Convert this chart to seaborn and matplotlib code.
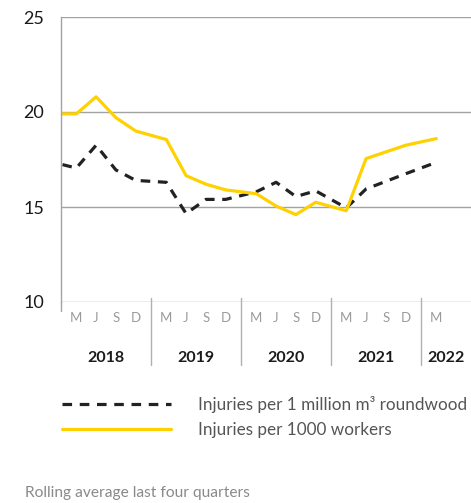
import numpy as np
import pandas as pd
import seaborn as sns
import matplotlib.pyplot as plt
from matplotlib.lines import Line2D
from matplotlib import transforms

# ---------------- data ----------------
years = [2018, 2019, 2020, 2021, 2022]
quarter_labels = ["M", "J", "S", "D"]
period_years = [2017, 2018, 2018, 2018, 2018, 2019, 2019, 2019, 2019,
                2020, 2020, 2020, 2020, 2021, 2021, 2021, 2021, 2022]
period_quarters = ["D", "M", "J", "S", "D", "M", "J", "S", "D",
                   "M", "J", "S", "D", "M", "J", "S", "D", "M"]
roundwood = [17.45, 17.05, 18.25, 16.95, 16.4, 16.3, 14.65, 15.4, 15.4,
             15.8, 16.3, 15.55, 15.85, 14.95, 15.95, 16.35, 16.75, 17.35]
workers = [19.9, 19.9, 20.8, 19.7, 19.0, 18.55, 16.65, 16.2, 15.9,
           15.7, 15.05, 14.6, 15.25, 14.8, 17.55, 17.9, 18.25, 18.6]
series_names = ["Injuries per 1 million m³ roundwood", "Injuries per 1000 workers"]
y_ticks = [10, 15, 20, 25]
footnote = "Rolling average last four quarters"

# ---------------- style ----------------
sns.set_style("white")
plt.rcParams["font.family"] = ["Lato", "DejaVu Sans"]

YELLOW = "#FFD100"
BLACK = "#222222"
GRID = "#a3a3a3"

q_offset = {"M": 0.17, "J": 0.39, "S": 0.61, "D": 0.83}


def xpos(year, q):
    return (year - years[0]) + q_offset[q]


xs = [xpos(y, q) for y, q in zip(period_years, period_quarters)]
df = pd.DataFrame({
    "x": xs * 2,
    "value": roundwood + workers,
    "series": [series_names[0]] * len(xs) + [series_names[1]] * len(xs),
})

W, H = 471, 503
fig = plt.figure(figsize=(W / 100, H / 100), dpi=100)
left_px, top_px, right_px, bottom_px = 61, 17, 471, 302
ax = fig.add_axes([left_px / W, (H - bottom_px) / H,
                   (right_px - left_px) / W, (bottom_px - top_px) / H])
year_px = 90.0
xmax = (right_px - left_px) / year_px

sns.lineplot(data=df, x="x", y="value", hue="series", style="series",
             palette={series_names[0]: BLACK, series_names[1]: YELLOW},
             dashes={series_names[0]: (3, 2.4), series_names[1]: ""},
             linewidth=2.3, sort=False, legend=False, ax=ax)

ax.set_xlim(0, xmax)
ax.set_ylim(y_ticks[0], y_ticks[-1])
ax.set_yticks(y_ticks)
ax.set_xlabel("")
ax.set_ylabel("")
ax.yaxis.grid(True, color=GRID, lw=1)
ax.xaxis.grid(False)
ax.set_axisbelow(True)
for s in ["top", "right", "bottom"]:
    ax.spines[s].set_visible(False)
ax.spines["left"].set_color(GRID)
ax.spines["left"].set_linewidth(1)
ax.tick_params(axis="y", length=8, width=1, color=GRID, labelsize=13,
               labelcolor="#1a1a1a", pad=4)

# month ticks: only the quarters that carry data
tick_pos, tick_lab = [], []
for y, q in zip(period_years, period_quarters):
    if y >= years[0]:
        tick_pos.append(xpos(y, q))
        tick_lab.append(q)
ax.set_xticks(tick_pos)
ax.set_xticklabels(tick_lab)
ax.tick_params(axis="x", length=0, pad=7, labelsize=9.5, labelcolor="#9a9a9a")

blend = transforms.blended_transform_factory(ax.transData, ax.transAxes)
ax_h = bottom_px - top_px
# year separators and year labels
for i, y in enumerate(years):
    start = y - years[0]
    end = min(start + 1, xmax)
    if i > 0:
        ax.plot([start, start], [4 / ax_h, -63 / ax_h], transform=blend,
                clip_on=False, color="#b0b0b0", lw=1)
    ax.text((start + end) / 2, -56 / ax_h, str(y), transform=blend,
            ha="center", va="center", fontsize=11.5, fontweight="bold",
            color="#1a1a1a")
ax.plot([0, 0], [0, -9 / ax_h], transform=blend, clip_on=False,
        color=GRID, lw=1)

# legend
handles = [Line2D([], [], color=BLACK, lw=2.3, dashes=(3, 2.4)),
           Line2D([], [], color=YELLOW, lw=2.3)]
fig.legend(handles, series_names, loc="upper left",
           bbox_to_anchor=(62 / W, (H - 396) / H), frameon=False,
           borderpad=0, borderaxespad=0, handlelength=6.4,
           handletextpad=1.55, labelspacing=0.5, fontsize=12.3,
           labelcolor="#555555")

fig.text(25 / W, (H - 493) / H, footnote, fontsize=11.2, color="#8a8a8a",
         va="center", ha="left")

fig.savefig("out.png", dpi=100)
